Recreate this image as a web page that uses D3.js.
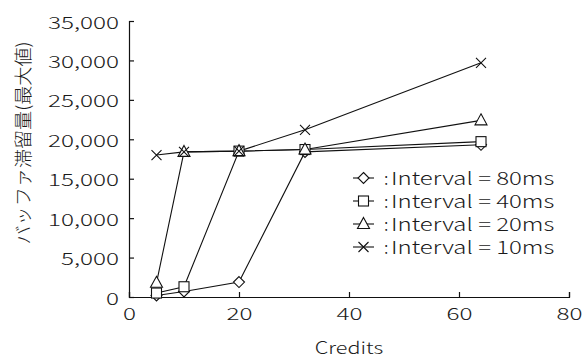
<!DOCTYPE html>
<html>
<head>
<meta charset="utf-8">
<script src="https://cdn.jsdelivr.net/npm/d3@7"></script>
<style>
  html, body { margin: 0; padding: 0; background: #fff; }
  svg text { font-family: "Noto Sans CJK JP", "Noto Sans", sans-serif; font-weight: 300; fill: #1a1a1a; }
</style>
</head>
<body>
<svg id="chart" width="582" height="359"></svg>
<script>
// Credits on the x axis
const credits = [5, 10, 20, 32, 64];

// Maximum buffered amount for each send interval
const interval80 = [200, 700, 1900, 18400, 19300];
const interval40 = [500, 1300, 18500, 18700, 19700];
const interval20 = [1800, 18400, 18500, 18700, 22400];
const interval10 = [18000, 18400, 18500, 21200, 29700];

const seriesNames = ["Interval = 80ms", "Interval = 40ms", "Interval = 20ms", "Interval = 10ms"];
const seriesSymbols = ["diamond", "square", "triangle", "cross"];

const xTicks = [0, 20, 40, 60, 80];
const yTicks = [0, 5000, 10000, 15000, 20000, 25000, 30000, 35000];

const xTitle = "Credits";
const yTitle = "バッファ滞留量(最大値)";

const series = [interval80, interval40, interval20, interval10].map((vals, i) => ({
  name: seriesNames[i],
  symbol: seriesSymbols[i],
  points: vals.map((v, j) => ({ x: credits[j], y: v }))
}));

const svg = d3.select("#chart");
const m = { left: 129, right: 569, top: 21, bottom: 297 };
// horizontal stretch for the wide lettering
const WIDE_TICK = 1.43, WIDE_LEGEND = 1.37, WIDE_TITLE = 1.27;

const x = d3.scaleLinear().domain([0, 80]).range([m.left, m.right]);
const y = d3.scaleLinear().domain([0, 35000]).range([m.bottom, m.top]);

// Axes with inward ticks
const xAxis = svg.append("g").attr("transform", `translate(0,${m.bottom})`)
  .call(d3.axisBottom(x).tickValues(xTicks).tickSize(-5).tickPadding(11).tickFormat(d3.format("d")));
const yAxis = svg.append("g").attr("transform", `translate(${m.left},0)`)
  .call(d3.axisLeft(y).tickValues(yTicks).tickSize(-5).tickPadding(10).tickFormat(d3.format(",")));

[xAxis, yAxis].forEach(g => {
  g.select(".domain").attr("stroke", "#111").attr("stroke-width", 1.2);
  g.selectAll(".tick line").attr("stroke", "#111").attr("stroke-width", 1.2);
  g.selectAll(".tick text").attr("font-size", 17).attr("fill", "#1a1a1a")
    .style("font-family", '"Noto Sans CJK JP", sans-serif').style("font-weight", 300)
    .attr("transform", `scale(${WIDE_TICK},1)`);
});
yAxis.selectAll(".tick text").attr("x", -10 / WIDE_TICK).attr("dy", "0.42em");

// Axis titles
svg.append("text")
  .attr("transform", `translate(${(m.left + m.right) / 2},354) scale(${WIDE_TITLE},1)`)
  .attr("text-anchor", "middle").attr("font-size", 17)
  .text(xTitle);

svg.append("text")
  .attr("transform", `translate(30,143) rotate(-90)`)
  .attr("text-anchor", "middle").attr("font-size", 18)
  .attr("textLength", 203).attr("lengthAdjust", "spacingAndGlyphs")
  .text(yTitle);

// Marker shapes
function drawMarker(g, type, cx, cy) {
  const s = 5.5;
  if (type === "diamond") {
    g.append("path").attr("d", `M${cx},${cy - s}L${cx + s},${cy}L${cx},${cy + s}L${cx - s},${cy}Z`)
      .attr("fill", "#fff").attr("stroke", "#111").attr("stroke-width", 1.1);
  } else if (type === "square") {
    g.append("rect").attr("x", cx - 5).attr("y", cy - 5).attr("width", 10).attr("height", 10)
      .attr("fill", "#fff").attr("stroke", "#111").attr("stroke-width", 1.1);
  } else if (type === "triangle") {
    g.append("path").attr("d", `M${cx},${cy - 6.5}L${cx + 6},${cy + 4.5}L${cx - 6},${cy + 4.5}Z`)
      .attr("fill", "#fff").attr("stroke", "#111").attr("stroke-width", 1.1);
  } else {
    g.append("path").attr("d", `M${cx - 5},${cy - 5}L${cx + 5},${cy + 5}M${cx - 5},${cy + 5}L${cx + 5},${cy - 5}`)
      .attr("fill", "none").attr("stroke", "#111").attr("stroke-width", 1.1);
  }
}

const line = d3.line().x(d => x(d.x)).y(d => y(d.y));

const plot = svg.append("g");
series.forEach(s => {
  plot.append("path").datum(s.points).attr("d", line)
    .attr("fill", "none").attr("stroke", "#111").attr("stroke-width", 1.1);
});
series.forEach(s => {
  const g = plot.append("g");
  s.points.forEach(p => drawMarker(g, s.symbol, x(p.x), y(p.y)));
});

// Legend
const legend = svg.append("g");
series.forEach((s, i) => {
  const ly = 178 + i * 23;
  const g = legend.append("g");
  g.append("line").attr("x1", 353).attr("x2", 374).attr("y1", ly).attr("y2", ly)
    .attr("stroke", "#111").attr("stroke-width", 1.1);
  drawMarker(g, s.symbol, 363.5, ly);
  g.append("text").attr("x", 384).attr("y", ly + 6.5).attr("font-size", 17.5).text(":");
  g.append("text").attr("transform", `translate(391,${ly + 6.5}) scale(${WIDE_LEGEND},1)`)
    .attr("font-size", 17.5).text(s.name);
});
</script>
</body>
</html>
